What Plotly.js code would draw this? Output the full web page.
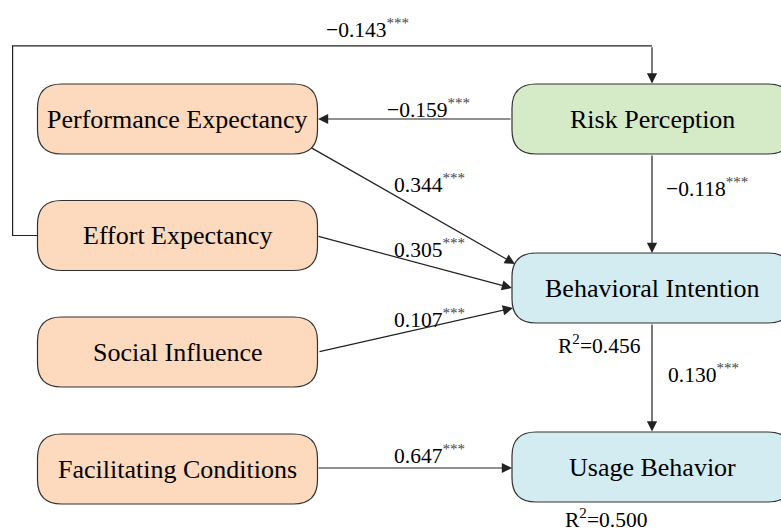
<!DOCTYPE html>
<html>
<head>
<meta charset="utf-8">
<script src="https://cdn.plot.ly/plotly-3.0.1.min.js"></script>
<style>html,body{margin:0;padding:0;background:#fff;}#chart{width:781px;height:532px;}</style>
</head>
<body>
<div id="chart"></div>
<script>
// ---------- DATA ----------
const constructs = ['Performance Expectancy','Effort Expectancy','Social Influence','Facilitating Conditions','Risk Perception','Behavioral Intention','Usage Behavior'];
const constructGroup = ['predictor','predictor','predictor','predictor','moderator','outcome','outcome'];
const pathFrom = ['Effort Expectancy','Risk Perception','Performance Expectancy','Effort Expectancy','Social Influence','Facilitating Conditions','Risk Perception','Behavioral Intention'];
const pathTo   = ['Risk Perception','Performance Expectancy','Behavioral Intention','Behavioral Intention','Behavioral Intention','Usage Behavior','Behavioral Intention','Usage Behavior'];
const pathCoef = [-0.143,-0.159,0.344,0.305,0.107,0.647,-0.118,0.130];
const pathSig  = ['***','***','***','***','***','***','***','***'];
const r2Targets = ['Behavioral Intention','Usage Behavior'];
const r2Values  = [0.456,0.500];

// ---------- LAYOUT CONFIG (positions / styles) ----------
const FONT = 'Liberation Serif';
const boxW = 280, boxH = 70, radius = 24;
const nodeCenter = {
  'Performance Expectancy':[177.5,119],
  'Effort Expectancy':[177.5,235.5],
  'Social Influence':[177.5,352],
  'Facilitating Conditions':[177.5,469],
  'Risk Perception':[652,119],
  'Behavioral Intention':[652,288],
  'Usage Behavior':[652,467]
};
const groupFill = {predictor:'#FDD9BD', moderator:'#D5EBC8', outcome:'#D3ECF1'};
const pathGeom = [
  {tail:[652,45.8], head:[652,83.5], bend:[[38,235.5],[12.6,235.5],[12.6,45.8],[652,45.8]], label:[324,28]},
  {tail:[512,119], head:[318,119], label:[385,108]},
  {tail:[310,147], head:[515,264], label:[392,183]},
  {tail:[317,236], head:[512,288], label:[392,248]},
  {tail:[318,352], head:[513,308], label:[392,318]},
  {tail:[317,468], head:[512,468], label:[392,454]},
  {tail:[652,154], head:[652,253], label:[664,187]},
  {tail:[652,323], head:[652,431.5], label:[666,373]}
];
const r2Pos = [[556,344],[563,518.5]];

function roundRect(cx, cy, w, h, r) {
  const x0 = cx - w/2, x1 = cx + w/2, y0 = cy - h/2, y1 = cy + h/2;
  return `M${x0+r},${y0} L${x1-r},${y0} Q${x1},${y0} ${x1},${y0+r} L${x1},${y1-r} Q${x1},${y1} ${x1-r},${y1} ` +
         `L${x0+r},${y1} Q${x0},${y1} ${x0},${y1-r} L${x0},${y0+r} Q${x0},${y0} ${x0+r},${y0} Z`;
}
function fmt(v){ const s = Math.abs(v).toFixed(3); return (v<0?'\u2212':'') + s; }

const shapes = [];
const annotations = [];
const LINE = '#222';

constructs.forEach((name,i)=>{
  const [cx,cy] = nodeCenter[name];
  shapes.push({type:'path', xref:'x', yref:'y', path: roundRect(cx,cy,boxW,boxH,radius),
    fillcolor: groupFill[constructGroup[i]], line:{color:'#333', width:1.2}, layer:'below'});
  annotations.push({x:cx, y:cy, xref:'x', yref:'y', text:name, showarrow:false,
    font:{family:FONT, size:26, color:'#000'}, xanchor:'center', yanchor:'middle'});
});

pathCoef.forEach((c,i)=>{
  const g = pathGeom[i];
  if (g.bend) {
    const p = g.bend.map((pt,k)=> (k===0?'M':'L') + pt[0] + ',' + pt[1]).join(' ');
    shapes.push({type:'path', xref:'x', yref:'y', path:p, line:{color:LINE, width:1.2}});
  }
  annotations.push({x:g.head[0], y:g.head[1], ax:g.tail[0], ay:g.tail[1], xref:'x', yref:'y', axref:'x', ayref:'y',
    text:'', showarrow:true, arrowhead:2, arrowsize:1.7, arrowwidth:1.2, arrowcolor:LINE, standoff:0, startstandoff:0});
  annotations.push({x:g.label[0], y:g.label[1], xref:'x', yref:'y', showarrow:false, xanchor:'left', yanchor:'middle',
    text: fmt(c) + '<sup><span style="color:#444">' + pathSig[i] + '</span></sup>',
    font:{family:FONT, size:21.5, color:'#000'}});
});

r2Targets.forEach((t,i)=>{
  annotations.push({x:r2Pos[i][0], y:r2Pos[i][1], xref:'x', yref:'y', showarrow:false, xanchor:'left', yanchor:'middle',
    text:'R<sup>2</sup>=' + r2Values[i].toFixed(3), font:{family:FONT, size:21.5, color:'#000'}});
});

const layout = {
  width:781, height:532, margin:{l:0,r:0,t:0,b:0},
  paper_bgcolor:'#fff', plot_bgcolor:'#fff',
  font:{family:FONT},
  xaxis:{range:[0,781], visible:false, fixedrange:true},
  yaxis:{range:[532,0], visible:false, fixedrange:true},
  shapes:shapes, annotations:annotations, showlegend:false
};
Plotly.newPlot('chart', [{x:[], y:[], type:'scatter', mode:'markers', hoverinfo:'skip'}], layout, {staticPlot:true, displayModeBar:false});
</script>
</body>
</html>
